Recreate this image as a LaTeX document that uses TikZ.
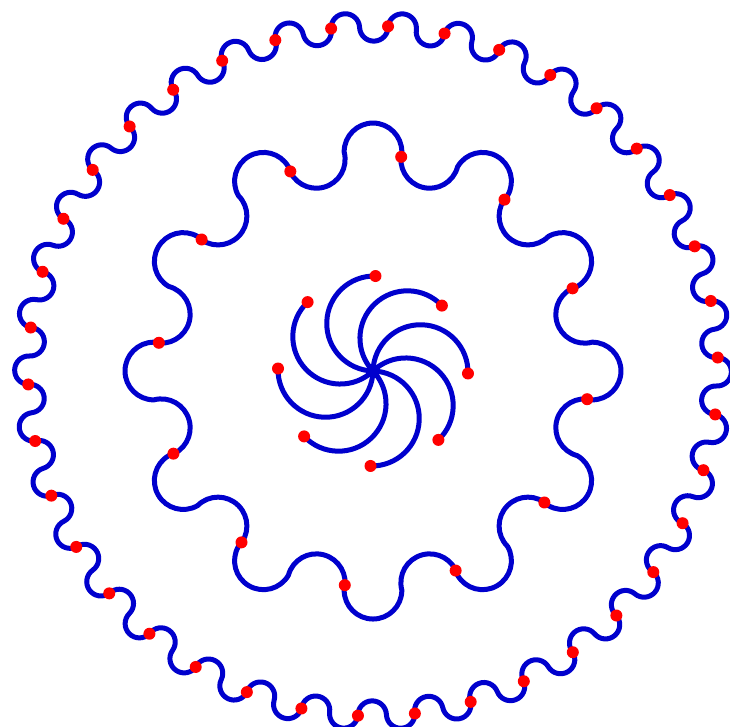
\documentclass[tikz,border=0pt]{standalone}
\definecolor{wblue}{RGB}{0,0,205}
\definecolor{wred}{RGB}{255,0,0}
\begin{document}
\begin{tikzpicture}[x=1pt,y=1pt,
  wave/.style={draw=wblue, line width=5pt, line join=round, line cap=round},
  reddot/.style={fill=wred}]
\useasboundingbox (-373,-356) rectangle (357,371);
\clip (-373,-356) rectangle (357,371);
\coordinate (O) at (0,0);
% inner spiral
\foreach \k in {0,...,7} {
  \pgfmathsetmacro\a{88.5-45*\k}
  \draw[wave] (O) arc[start angle=\a+180, delta angle=-180, radius=47.5];
}
% middle ring: 24 half circles on a 24-gon, inward bump first
\draw[wave] (82.5:221)
  \foreach \k [evaluate=\k as \ph using 82.5-30*\k+82.5,
               evaluate=\k as \pf using 82.5-30*\k+67.5] in {0,...,11} {
    arc[start angle=\ph, delta angle=180, radius=28.85]
    arc[start angle=\pf, delta angle=-180, radius=28.85]
  };
% outer ring: 38 segments, outward bump first
\draw[wave] (87.5:345)
  \foreach \k [evaluate=\k as \ph using 87.5-9.473684*\k+85.263158] in {0,...,37} {
    arc[start angle=\ph, delta angle=-180, radius=14.245]
    arc[start angle=\ph, delta angle=180, radius=14.245]
  };
% dots
\foreach \k in {0,...,7}
  \fill[reddot] ({88.5-45*\k}:95) circle (6);
\foreach \k in {0,...,11}
  \fill[reddot] ({82.5-30*\k}:216) circle (6);
\foreach \k in {0,...,37}
  \fill[reddot] ({87.5-9.473684*\k}:345) circle (6);
\end{tikzpicture}
\end{document}
